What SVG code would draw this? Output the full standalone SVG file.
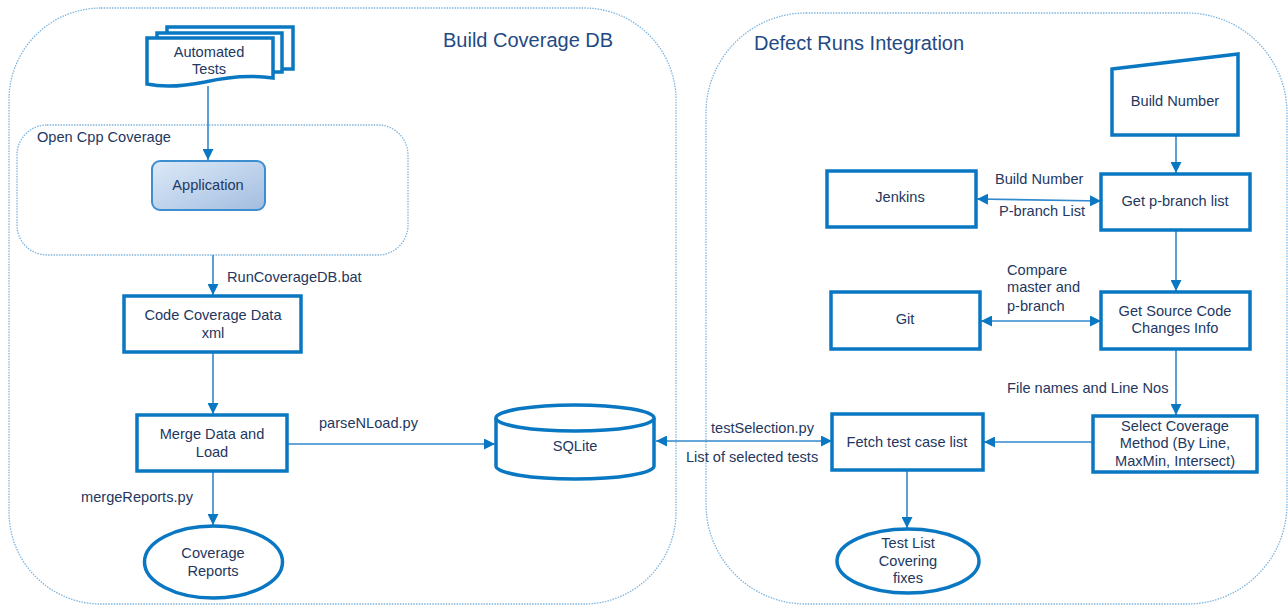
<svg xmlns="http://www.w3.org/2000/svg" width="1288" height="606" viewBox="0 0 1288 606">
<style>
.cont{fill:none;stroke:#7DB5E0;stroke-width:1.3;stroke-dasharray:1.5 1.2}
.box{fill:#fff;stroke:#0A77C2;stroke-width:3.5}
.t{font-family:"Liberation Sans",Arial,sans-serif;font-size:14.6px;fill:#23375F}
.c{text-anchor:middle}
.title{font-family:"Liberation Sans",Arial,sans-serif;font-size:20px;fill:#1F4A85}
.ln{fill:none;stroke:#3189CE;stroke-width:1.6}
</style>
<defs>
<marker id="ah" markerUnits="userSpaceOnUse" markerWidth="11" markerHeight="11" refX="10" refY="5" orient="auto-start-reverse" viewBox="0 0 10 10">
<path d="M0,0 L10,5 L0,10 z" fill="#0A77C2"/>
</marker>
<linearGradient id="appg" x1="0" y1="0" x2="1" y2="1">
<stop offset="0" stop-color="#DCEAF8"/>
<stop offset="1" stop-color="#A3BDE0"/>
</linearGradient>
</defs>
<rect fill="#fff" width="1288" height="606"/>
<g id="containers">
<rect class="cont" x="9" y="8" width="667" height="596" rx="92"/>
<rect class="cont" x="706" y="13" width="581" height="591" rx="100"/>
<rect class="cont" x="17" y="125" width="391" height="130" rx="30"/>
<text class="title" x="443" y="47">Build Coverage DB</text>
<text class="title" x="754" y="50">Defect Runs Integration</text>
<text class="t" x="37" y="142">Open Cpp Coverage</text>
</g>
<g id="connectors">
<line class="ln" x1="208" y1="86" x2="208" y2="160" marker-end="url(#ah)"/>
<line class="ln" x1="213" y1="255" x2="213" y2="295" marker-end="url(#ah)"/>
<line class="ln" x1="213" y1="352" x2="213" y2="414" marker-end="url(#ah)"/>
<line class="ln" x1="287" y1="444" x2="495" y2="444" marker-end="url(#ah)"/>
<line class="ln" x1="213" y1="471" x2="213" y2="525" marker-end="url(#ah)"/>
<line class="ln" x1="656" y1="441" x2="832" y2="441" marker-start="url(#ah)" marker-end="url(#ah)"/>
<line class="ln" x1="907" y1="470" x2="907" y2="528" marker-end="url(#ah)"/>
<line class="ln" x1="1093" y1="442" x2="984" y2="442" marker-end="url(#ah)"/>
<line class="ln" x1="1176" y1="349" x2="1176" y2="415" marker-end="url(#ah)"/>
<line class="ln" x1="1176" y1="135" x2="1176" y2="173" marker-end="url(#ah)"/>
<line class="ln" x1="1176" y1="230" x2="1176" y2="291" marker-end="url(#ah)"/>
<line class="ln" x1="977" y1="199" x2="1101" y2="201" marker-start="url(#ah)" marker-end="url(#ah)"/>
<line class="ln" x1="981" y1="321" x2="1101" y2="321" marker-start="url(#ah)" marker-end="url(#ah)"/>
<text class="t" x="227" y="282">RunCoverageDB.bat</text>
<text class="t" x="319" y="428">parseNLoad.py</text>
<text class="t" x="81" y="502">mergeReports.py</text>
<text class="t" x="711" y="433">testSelection.py</text>
<text class="t" x="686" y="462">List of selected tests</text>
<text class="t" x="1007" y="393">File names and Line Nos</text>
<text class="t" x="995" y="184">Build Number</text>
<text class="t" x="999" y="216">P-branch List</text>
<text class="t" x="1007" y="275">Compare</text>
<text class="t" x="1007" y="292">master and</text>
<text class="t" x="1007" y="311">p-branch</text>
</g>
<g id="automated-tests">
<path class="box" d="M167,33 V27 H293 V69 H282"/>
<path class="box" d="M157,38 V33 H282 V72 H273"/>
<path class="box" d="M147,38 H273 V78 C245,74 222,78 205,82 C185,86 165,88 147,84 Z"/>
<text class="t c" x="209" y="57">Automated</text>
<text class="t c" x="209" y="74">Tests</text>
</g>
<g id="application">
<rect x="152" y="161" width="113" height="49" rx="8" fill="url(#appg)" stroke="#3C8ED0" stroke-width="2"/>
<text class="t c" x="208" y="190">Application</text>
</g>
<g id="code-coverage">
<rect class="box" x="124" y="296" width="177" height="56"/>
<text class="t c" x="213" y="320">Code Coverage Data</text>
<text class="t c" x="213" y="338">xml</text>
</g>
<g id="merge">
<rect class="box" x="137" y="415" width="150" height="56"/>
<text class="t c" x="212" y="439">Merge Data and</text>
<text class="t c" x="212" y="457">Load</text>
</g>
<g id="coverage-reports">
<ellipse class="box" cx="213.5" cy="562" rx="69" ry="36"/>
<text class="t c" x="213" y="558">Coverage</text>
<text class="t c" x="213" y="576">Reports</text>
</g>
<g id="sqlite">
<path class="box" d="M496,418 V466 A79,13 0 0 0 654,466 V418 A79,13 0 0 0 496,418 Z"/>
<path class="box" d="M496,418 A79,13 0 0 0 654,418"/>
<text class="t c" x="575" y="451">SQLite</text>
</g>
<g id="fetch">
<rect class="box" x="832" y="414" width="151" height="56"/>
<text class="t c" x="907" y="447">Fetch test case list</text>
</g>
<g id="test-list">
<ellipse class="box" cx="908" cy="561" rx="71" ry="32"/>
<text class="t c" x="908" y="548">Test List</text>
<text class="t c" x="908" y="566">Covering</text>
<text class="t c" x="908" y="583">fixes</text>
</g>
<g id="select-coverage">
<rect class="box" x="1093" y="416" width="164" height="56"/>
<text class="t c" x="1175" y="431">Select Coverage</text>
<text class="t c" x="1175" y="448">Method (By Line,</text>
<text class="t c" x="1175" y="466">MaxMin, Intersect)</text>
</g>
<g id="build-number">
<path class="box" d="M1112,69 L1238,54 V135 H1112 Z"/>
<text class="t c" x="1175" y="106">Build Number</text>
</g>
<g id="get-pbranch">
<rect class="box" x="1101" y="174" width="149" height="56"/>
<text class="t c" x="1175" y="206">Get p-branch list</text>
</g>
<g id="jenkins">
<rect class="box" x="827" y="171" width="149" height="56"/>
<text class="t c" x="900" y="202">Jenkins</text>
</g>
<g id="get-source">
<rect class="box" x="1101" y="292" width="149" height="57"/>
<text class="t c" x="1175" y="316">Get Source Code</text>
<text class="t c" x="1175" y="333">Changes Info</text>
</g>
<g id="git">
<rect class="box" x="831" y="292" width="149" height="57"/>
<text class="t c" x="905" y="324">Git</text>
</g>
</svg>
